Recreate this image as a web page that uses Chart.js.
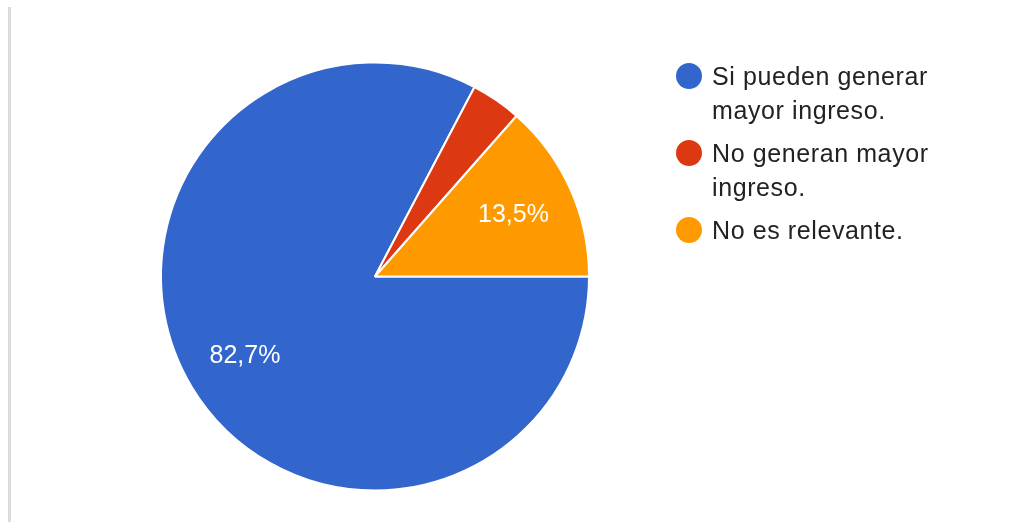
<!DOCTYPE html>
<html>
<head>
<meta charset="utf-8">
<script src="https://cdn.jsdelivr.net/npm/chart.js@4/dist/chart.umd.min.js"></script>
<style>
  html, body { margin: 0; padding: 0; background: #ffffff; }
  #wrap { position: relative; width: 1012px; height: 522px; overflow: hidden; }
  #edge { position: absolute; left: 8px; top: 7px; width: 3px; bottom: 0; background: #dcdcdc; }
  canvas { position: absolute; left: 0; top: 0; }
</style>
</head>
<body>
<div id="wrap">
  <div id="edge"></div>
  <canvas id="c" width="1012" height="522"></canvas>
</div>
<script>
const categories = ["Si pueden generar mayor ingreso.", "No generan mayor ingreso.", "No es relevante."];
const values = [82.7, 3.8, 13.5];
const colors = ["#3366cc", "#dc3912", "#ff9900"];

const FONT = '"Liberation Sans", Arial, sans-serif';

function fmtPct(v) {
  return v.toFixed(1).replace('.', ',') + '%';
}

const sliceLabels = {
  id: 'sliceLabels',
  afterDatasetsDraw(chart) {
    const ctx = chart.ctx;
    const meta = chart.getDatasetMeta(0);
    const data = chart.data.datasets[0].data;
    const total = data.reduce((a, b) => a + b, 0);
    ctx.save();
    ctx.font = '25px ' + FONT;
    ctx.fillStyle = '#ffffff';
    ctx.textAlign = 'center';
    ctx.textBaseline = 'middle';
    meta.data.forEach((arc, i) => {
      const pct = data[i] / total * 100;
      if (pct < 5) return;
      const mid = (arc.startAngle + arc.endAngle) / 2;
      const r = arc.outerRadius * 0.71;
      ctx.fillText(fmtPct(data[i]), arc.x + Math.cos(mid) * r, arc.y + Math.sin(mid) * r + 1);
    });
    ctx.restore();
  }
};

const sideLegend = {
  id: 'sideLegend',
  afterDraw(chart) {
    const ctx = chart.ctx;
    const labels = chart.data.labels;
    const bg = chart.data.datasets[0].backgroundColor;
    ctx.save();
    ctx.font = '25px ' + FONT;
    if ('letterSpacing' in ctx) ctx.letterSpacing = '0.6px';
    ctx.fillStyle = '#222222';
    ctx.textAlign = 'left';
    ctx.textBaseline = 'alphabetic';
    const textX = 712, dotX = 689, maxW = 235, lineH = 34, gap = 43;
    let baseline = 84.5;
    labels.forEach((lab, i) => {
      const words = lab.split(' ');
      const lines = [];
      let cur = '';
      words.forEach(w => {
        const test = cur ? cur + ' ' + w : w;
        if (ctx.measureText(test).width > maxW && cur) { lines.push(cur); cur = w; }
        else cur = test;
      });
      if (cur) lines.push(cur);
      ctx.beginPath();
      ctx.fillStyle = bg[i];
      ctx.arc(dotX, baseline - 8.5, 13, 0, Math.PI * 2);
      ctx.fill();
      ctx.fillStyle = '#222222';
      lines.forEach((ln, j) => {
        ctx.fillText(ln, textX, baseline + j * lineH);
      });
      baseline += (lines.length - 1) * lineH + gap;
    });
    ctx.restore();
  }
};

new Chart(document.getElementById('c'), {
  type: 'pie',
  data: {
    labels: categories,
    datasets: [{
      data: values,
      backgroundColor: colors,
      borderColor: '#ffffff',
      borderWidth: 2
    }]
  },
  options: {
    responsive: false,
    animation: false,
    rotation: 90,
    layout: { padding: { left: 160, right: 422, top: 61, bottom: 30 } },
    plugins: {
      legend: { display: false },
      tooltip: { enabled: false }
    }
  },
  plugins: [sliceLabels, sideLegend]
});
</script>
</body>
</html>
